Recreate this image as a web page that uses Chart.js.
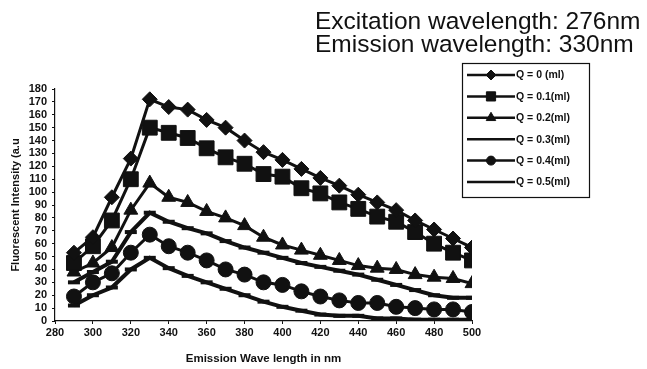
<!DOCTYPE html>
<html>
<head>
<meta charset="utf-8">
<script src="https://cdn.jsdelivr.net/npm/chart.js@4/dist/chart.umd.min.js"></script>
<style>
  html, body { margin: 0; padding: 0; background: #fff; }
  #wrap { width: 647px; height: 369px; }
</style>
</head>
<body>
<div id="wrap"><canvas id="chart" width="647" height="369"></canvas></div>
<script>
// emission wavelengths (nm)
const wavelengths = [290, 300, 310, 320, 330, 340, 350, 360, 370, 380, 390,
  400, 410, 420, 430, 440, 450, 460, 470, 480, 490, 500];

const seriesNames = ["Q = 0 (ml)", "Q = 0.1(ml)", "Q = 0.2(ml)",
  "Q = 0.3(ml)", "Q = 0.4(ml)", "Q = 0.5(ml)"];

const q00 = [53, 65, 96, 126, 172, 166, 164, 156, 150, 140, 131, 125, 118, 111, 105, 98, 92, 86, 78, 71, 64, 57];
const q01 = [45, 58, 78, 110, 150, 146, 142, 134, 127, 122, 114, 112, 103, 99, 92, 87, 81, 77, 69, 60, 53, 47];
const q02 = [38, 45, 57, 86, 107, 96, 92, 85, 80, 74, 65, 59, 55, 51, 47, 43, 41, 40, 36, 34, 33, 29];
const q03 = [30, 38, 46, 69, 84, 77, 72, 68, 62, 57, 53, 49, 45, 42, 39, 36, 32, 28, 24, 20, 18, 18];
const q04 = [19, 30, 37, 53, 67, 58, 53, 47, 40, 36, 30, 28, 23, 19, 16, 14, 14, 11, 10, 9, 9, 7];
const q05 = [12, 20, 26, 40, 49, 41, 35, 30, 25, 20, 15, 11, 8, 5, 4, 4, 2, 2, 1, 1, 1, 1];

const headerLines = ["Excitation wavelength: 276nm", "Emission wavelength: 330nm"];

const FONT = "'Liberation Sans', Arial, sans-serif";
const INK = "#111";

const toPoints = (ys) => ys.map((y, i) => ({ x: wavelengths[i], y }));

// marker style per series: [pointStyle, radius, lineWidth, legendRadius]
const markers = [
  ["rectRot", 7.5, 3, 5],
  ["rect", 10.5, 3, 6.5],
  ["triangle", 8, 3, 5.5],
  ["line", 6, 4, 0],
  ["circle", 7.5, 3, 4.5],
  ["line", 6, 4, 0],
];

const datasets = [q00, q01, q02, q03, q04, q05].map((ys, i) => ({
  label: seriesNames[i],
  data: toPoints(ys),
  borderColor: INK,
  backgroundColor: INK,
  borderWidth: markers[i][2],
  pointStyle: markers[i][0],
  pointRadius: markers[i][1],
  pointBorderWidth: markers[i][0] === "line" ? 4 : 1,
  pointBackgroundColor: INK,
  pointBorderColor: INK,
  tension: 0,
}));

const headerPlugin = {
  id: "header",
  afterDraw(chart) {
    const ctx = chart.ctx;
    ctx.save();
    ctx.fillStyle = INK;
    ctx.font = `24.5px ${FONT}`;
    ctx.textAlign = "left";
    ctx.textBaseline = "alphabetic";
    ctx.fillText(headerLines[0], 315, 29);
    ctx.fillText(headerLines[1], 315, 52);
    ctx.restore();
  },
};

const boxLegend = {
  id: "boxLegend",
  afterDraw(chart) {
    const ctx = chart.ctx;
    const x0 = 462, y0 = 63, w = 127, h = 134;
    ctx.save();
    ctx.fillStyle = "#fff";
    ctx.fillRect(x0, y0, w, h);
    ctx.strokeStyle = INK;
    ctx.lineWidth = 1.2;
    ctx.strokeRect(x0 + 0.5, y0 + 0.5, w, h);
    chart.data.datasets.forEach((ds, i) => {
      const y = 75 + i * 21.4;
      ctx.strokeStyle = INK;
      ctx.lineWidth = 2.5;
      ctx.beginPath();
      ctx.moveTo(467, y);
      ctx.lineTo(515, y);
      ctx.stroke();
      const r = markers[i][3];
      if (r > 0 && Chart.helpers && Chart.helpers.drawPoint) {
        ctx.fillStyle = INK;
        ctx.lineWidth = 1;
        Chart.helpers.drawPoint(ctx, { pointStyle: ds.pointStyle, radius: r, borderWidth: 1, rotation: 0 }, 491, y);
      }
      ctx.fillStyle = INK;
      ctx.font = `bold 10.5px ${FONT}`;
      ctx.textAlign = "left";
      ctx.textBaseline = "middle";
      ctx.fillText(ds.label, 516, y + 0.5);
    });
    ctx.restore();
  },
};

new Chart(document.getElementById("chart"), {
  type: "line",
  data: { datasets },
  plugins: [headerPlugin, boxLegend],
  options: {
    responsive: false,
    animation: false,
    layout: { padding: { top: 89, right: 175, left: 0, bottom: 0 } },
    plugins: {
      legend: { display: false },
      tooltip: { enabled: false },
    },
    scales: {
      x: {
        type: "linear",
        min: 280,
        max: 500,
        ticks: { stepSize: 20, autoSkip: false, color: INK, font: { family: FONT, size: 11, weight: "bold" }, padding: 2 },
        grid: { drawOnChartArea: false, drawTicks: true, tickLength: 3, color: INK },
        border: { display: true, color: INK, width: 1.2 },
        title: { display: true, text: "Emission Wave length in nm", color: INK,
          font: { family: FONT, size: 11.5, weight: "bold" }, padding: { top: 0, bottom: 3 } },
        afterFit(scale) { scale.height = 48; },
      },
      y: {
        min: 0,
        max: 180,
        ticks: { stepSize: 10, autoSkip: false, color: INK, font: { family: FONT, size: 11, weight: "bold" }, padding: 5 },
        grid: { drawOnChartArea: false, drawTicks: true, tickLength: 3, color: INK },
        border: { display: true, color: INK, width: 1.2 },
        title: { display: true, text: "Fluorescent Intensity (a.u", color: INK,
          font: { family: FONT, size: 11, weight: "bold" }, padding: { top: 9, bottom: 0 } },
        afterFit(scale) { scale.width = 55; },
      },
    },
  },
});
</script>
</body>
</html>
